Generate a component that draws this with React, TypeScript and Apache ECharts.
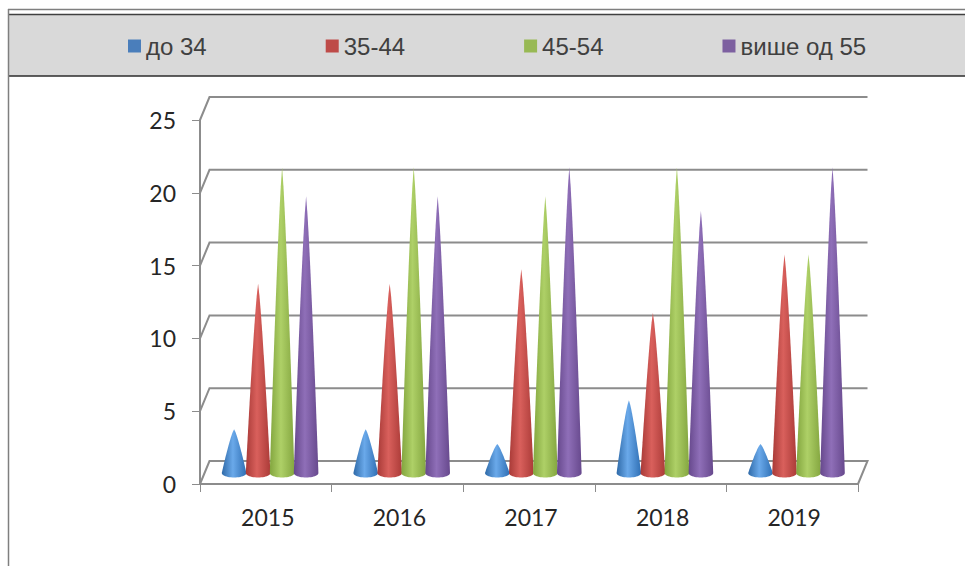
import React, { useEffect, useRef } from "react";
import * as echarts from "echarts";

const categories = ["2015", "2016", "2017", "2018", "2019"];
const seriesNames = ["до 34", "35-44", "45-54", "више од 55"];
const under34 = [3, 3, 2, 5, 2];
const from35to44 = [13, 13, 14, 11, 15];
const from45to54 = [21, 21, 19, 21, 15];
const over55 = [19, 19, 21, 18, 21];
const wallTicks = [0, 5, 10, 15, 20, 25];

const seriesValues = [under34, from35to44, from45to54, over55];
const legendColors = ["#4a7ebb", "#be4b48", "#98b954", "#7d60a0"];
const coneStops = [
  ["#2f6aa8", "#6aa9ea", "#2f6fb4"],
  ["#a83a37", "#d9605c", "#ab3b38"],
  ["#82a53e", "#aed067", "#84a640"],
  ["#66488c", "#8f6fb8", "#67498d"],
];

const DEPTH_X = 9.5;
const DEPTH_Y = 23;
const MID_X = 4.3;
const MID_Y = 11;
const TAPER = 0.8;

function coneRender(seriesIndex: number) {
  return (params: any, api: any) => {
    const band = api.size([1, 0])[0];
    const unit = api.size([0, 1])[1];
    const base = api.coord([api.value(0), 0]);
    const value = api.value(1);
    const spacing = band * 0.1824;
    const rx = band * 0.0935;
    const ry = 4.5;
    const cx = base[0] + MID_X + (seriesIndex - 1.5) * spacing;
    const by = base[1] - MID_Y;
    const height = value * unit;
    const left: number[][] = [];
    const right: number[][] = [];
    for (let i = 0; i < 16; i++) {
      const t = i / 16;
      const w = rx * Math.pow(t, TAPER);
      left.push([cx - w, by - height * (1 - t)]);
      right.unshift([cx + w, by - height * (1 - t)]);
    }
    const arc: number[][] = [];
    for (let i = 0; i <= 24; i++) {
      const a = Math.PI - (i / 24) * Math.PI;
      arc.push([cx + rx * Math.cos(a), by + ry * Math.sin(a)]);
    }
    const stops = coneStops[seriesIndex];
    return {
      type: "polygon",
      shape: { points: [...left, ...arc, ...right] },
      style: {
        fill: new echarts.graphic.LinearGradient(0, 0, 1, 0, [
          { offset: 0, color: stops[0] },
          { offset: 0.45, color: stops[1] },
          { offset: 1, color: stops[2] },
        ]),
      },
    };
  };
}

function wallRender(params: any, api: any) {
  const c = params.coordSys;
  const y = api.coord([0, api.value(1)])[1];
  const value = api.value(1);
  const right = c.x + c.width;
  const points: number[][] = [
    [c.x, y],
    [c.x + DEPTH_X, y - DEPTH_Y],
    [right + DEPTH_X, y - DEPTH_Y],
  ];
  if (value === 0) points.push([right, y]);
  return {
    type: "polyline",
    shape: { points },
    style: { stroke: "#8c8c8c", lineWidth: 2, fill: "none" },
  };
}

export default function App() {
  const ref = useRef<HTMLDivElement>(null);
  useEffect(() => {
    const chart = echarts.init(ref.current!, undefined, { renderer: "svg" });
    chart.setOption({
      animation: false,
      backgroundColor: "#ffffff",
      graphic: [
        { type: "rect", z: -1, shape: { x: 8, y: 15, width: 957, height: 61 }, style: { fill: "#d9d9d9" } },
        { type: "line", z: 0, shape: { x1: 8, y1: 9.5, x2: 965, y2: 9.5 }, style: { stroke: "#7f7f7f", lineWidth: 1.5 } },
        { type: "line", z: 0, shape: { x1: 8, y1: 14.5, x2: 965, y2: 14.5 }, style: { stroke: "#404040", lineWidth: 1.5 } },
        { type: "line", z: 0, shape: { x1: 8, y1: 76, x2: 965, y2: 76 }, style: { stroke: "#2b2b2b", lineWidth: 1.5 } },
        { type: "line", z: 0, shape: { x1: 8.5, y1: 9, x2: 8.5, y2: 566 }, style: { stroke: "#7f7f7f", lineWidth: 1.5 } },
      ],
      legend: {
        data: seriesNames,
        left: 123,
        top: 29,
        icon: "rect",
        itemWidth: 13,
        itemHeight: 13,
        itemGap: 119,
        textStyle: {
          fontFamily: "Liberation Sans",
          fontSize: 24,
          color: "#404040",
        },
      },
      grid: { left: 200, right: 107, top: 120, bottom: 82 },
      xAxis: {
        type: "category",
        data: categories,
        axisLine: { lineStyle: { color: "#8c8c8c", width: 2 } },
        axisTick: { show: true, alignWithLabel: false, interval: 0, length: 8, lineStyle: { color: "#8c8c8c", width: 1 } },
        axisLabel: { fontFamily: "Lato", fontSize: 23, color: "#262626", margin: 21, padding: [0, 0, 0, 4] },
      },
      yAxis: {
        type: "value",
        min: 0,
        max: 25,
        interval: 5,
        splitLine: { show: false },
        axisLine: { show: true, lineStyle: { color: "#8c8c8c", width: 2 } },
        axisTick: { show: true, length: 8, lineStyle: { color: "#8c8c8c", width: 1 } },
        axisLabel: { fontFamily: "Lato", fontSize: 23, color: "#262626", margin: 24 },
      },
      series: [
        {
          type: "custom",
          name: "wall",
          silent: true,
          z: 1,
          renderItem: wallRender,
          data: wallTicks.map((v) => [0, v]),
          encode: { x: 0, y: 1 },
        },
        ...seriesNames.map((name, i) => ({
          type: "custom",
          name,
          z: 2,
          itemStyle: { color: legendColors[i] },
          renderItem: coneRender(i),
          data: seriesValues[i].map((v, k) => [k, v]),
          encode: { x: 0, y: 1 },
        })),
      ],
    });
    return () => chart.dispose();
  }, []);
  return <div ref={ref} style={{ position: "absolute", left: 0, top: 0, width: 965, height: 566 }} />;
}
